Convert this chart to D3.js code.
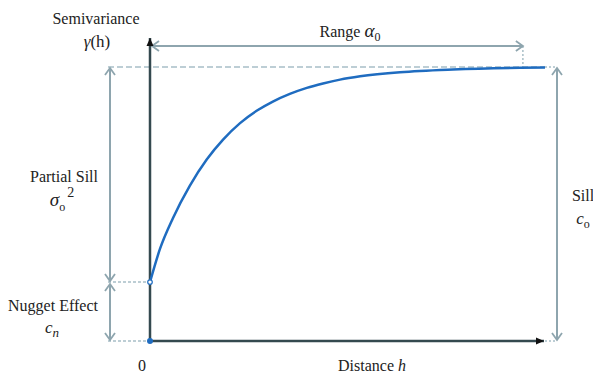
<!DOCTYPE html>
<html>
<head>
<meta charset="utf-8">
<script src="https://cdn.jsdelivr.net/npm/d3@7"></script>
<style>
  body { margin: 0; background: #fff; }
  svg text { font-family: "Liberation Serif", "Times New Roman", serif; }
</style>
</head>
<body>
<div class="chart"></div>
<script>
// semivariogram curve (distance h, semivariance)
const distance = [0, 2.5, 5.8, 10.1, 14.4, 18.5, 22.8, 27.1, 31.1, 35.4, 39.7, 43.8, 48.1, 53.2, 63.3, 76.7, 93.7, 100]
const semivariance = [0.215, 0.335, 0.448, 0.567, 0.663, 0.735, 0.795, 0.841, 0.874, 0.902, 0.924, 0.94, 0.954, 0.966, 0.981, 0.991, 0.997, 0.998]
const nugget = 0.215
const sill = 1.0
const range = 94.4
const xDomain = [0, 100]
const yDomain = [0, 1]

const width = 593
const height = 373
const margin = { top: 67, right: 48, bottom: 32, left: 150 }

const svg = d3
  .select('.chart')
  .append('svg')
  .attr('width', width)
  .attr('height', height)
  .attr('font-family', 'Liberation Serif')

const xScale = d3.scaleLinear().domain(xDomain).range([margin.left, width - margin.right])
const yScale = d3.scaleLinear().domain(yDomain).range([height - margin.bottom, margin.top])

const axisCol = '#34494f'
const arrowCol = '#8ea5ae'
const dashCol = '#a8bfc7'
const curveCol = '#1f6cc0'

// markers
const defs = svg.append('defs')
defs.append('marker')
  .attr('id', 'chev')
  .attr('viewBox', '-8 -6 10 12')
  .attr('refX', 0).attr('refY', 0)
  .attr('markerWidth', 10).attr('markerHeight', 12)
  .attr('markerUnits', 'userSpaceOnUse')
  .attr('orient', 'auto-start-reverse')
  .append('path')
  .attr('d', 'M-7,-5 L0,0 L-7,5')
  .style('fill', 'none')
  .attr('stroke', arrowCol)
  .attr('stroke-width', 1.8)
defs.append('marker')
  .attr('id', 'tri')
  .attr('viewBox', '-8 -4 9 8')
  .attr('refX', 0).attr('refY', 0)
  .attr('markerWidth', 9).attr('markerHeight', 8)
  .attr('markerUnits', 'userSpaceOnUse')
  .attr('orient', 'auto')
  .append('path')
  .attr('d', 'M-8,-3.5 L0,0 L-8,3.5 Z')
  .style('fill', '#111')

const x0 = xScale(0)
const xEnd = xScale(xDomain[1])
const yNug = yScale(nugget)
const ySill = yScale(sill)
const yZero = yScale(0)
const xLeftArrow = x0 - 40
const xRightArrow = xEnd + 12
const yRange = ySill - 21

// guide lines
const guide = (x1, y1, x2, y2, dash) => svg.append('line')
  .attr('x1', x1).attr('y1', y1).attr('x2', x2).attr('y2', y2)
  .attr('stroke', dashCol).attr('stroke-width', 1.5)
  .attr('stroke-dasharray', dash)
guide(xLeftArrow - 2, ySill, xEnd, ySill, '6 3')
guide(xEnd, ySill, xRightArrow, ySill, '2 2')
guide(xLeftArrow - 2, yNug, x0, yNug, '3 2')
guide(xLeftArrow - 2, yZero, x0, yZero, '3 2')
guide(xScale(range), yRange, xScale(range), ySill, '2 2')
guide(xEnd, yZero, xRightArrow, yZero, '2 2')

// dimension arrows
const dimArrow = (x1, y1, x2, y2) => svg.append('line')
  .attr('x1', x1).attr('y1', y1).attr('x2', x2).attr('y2', y2)
  .attr('stroke', arrowCol).attr('stroke-width', 2)
  .attr('marker-start', 'url(#chev)')
  .attr('marker-end', 'url(#chev)')
dimArrow(xLeftArrow, ySill + 1, xLeftArrow, yNug - 1)
dimArrow(xLeftArrow, yNug + 2, xLeftArrow, yZero - 1)
dimArrow(xRightArrow, ySill + 1, xRightArrow, yZero - 1)
dimArrow(x0 + 2, yRange, xScale(range), yRange)

// axes
svg.append('line')
  .attr('x1', x0).attr('y1', yZero).attr('x2', x0).attr('y2', margin.top - 29)
  .attr('stroke', axisCol).attr('stroke-width', 2.5)
  .attr('marker-end', 'url(#tri)')
svg.append('line')
  .attr('x1', x0).attr('y1', yZero).attr('x2', xEnd - 1).attr('y2', yZero)
  .attr('stroke', axisCol).attr('stroke-width', 2.5)
  .attr('marker-end', 'url(#tri)')

// curve
const data = distance.map((d, i) => ({ h: d, g: semivariance[i] }))
const line = d3.line()
  .x(d => xScale(d.h))
  .y(d => yScale(d.g))
  .curve(d3.curveMonotoneX)
svg.append('path')
  .data([data])
  .style('fill', 'none')
  .attr('stroke', curveCol)
  .attr('stroke-width', 2.5)
  .attr('d', line)

svg.append('circle')
  .attr('cx', x0).attr('cy', yNug).attr('r', 2.3)
  .style('fill', '#fff').attr('stroke', curveCol).attr('stroke-width', 1.2)
svg.append('circle')
  .attr('cx', x0).attr('cy', yZero).attr('r', 3)
  .style('fill', curveCol)

// labels
const label = (x, y, size) => svg.append('text')
  .attr('x', x).attr('y', y)
  .attr('text-anchor', 'middle')
  .style('fill', '#222')
  .style('font-size', size + 'px')

label(96, 24, 16).text('Semivariance')
const gh = label(97, 47, 17)
gh.append('tspan').style('font-style', 'italic').text('γ')
gh.append('tspan').text('(h)')

const rg = label(350, 37, 16)
rg.append('tspan').text('Range ')
rg.append('tspan').style('font-style', 'italic').style('font-size', '19px').text('α')
rg.append('tspan').attr('dy', 4).style('font-size', '12px').text('0')

label(64, 182, 16).text('Partial Sill')
const ps = label(62, 206, 19)
ps.append('tspan').style('font-style', 'italic').text('σ')
ps.append('tspan').attr('dy', 5).style('font-size', '12px').text('o')
ps.append('tspan').attr('dy', -14).attr('dx', 2).style('font-size', '14px').text('2')

label(53, 311, 16).text('Nugget Effect')
const cn = label(52, 333, 17)
cn.append('tspan').style('font-style', 'italic').text('c')
cn.append('tspan').attr('dy', 4).style('font-style', 'italic').style('font-size', '13px').text('n')

label(583, 201, 16).text('Sill')
const co = label(583, 224, 17)
co.append('tspan').style('font-style', 'italic').text('c')
co.append('tspan').attr('dy', 4).style('font-size', '12px').text('o')

label(x0 - 8, 371, 16).text('0')
const dh = label(372, 371, 16)
dh.append('tspan').text('Distance ')
dh.append('tspan').style('font-style', 'italic').text('h')
</script>
</body>
</html>
